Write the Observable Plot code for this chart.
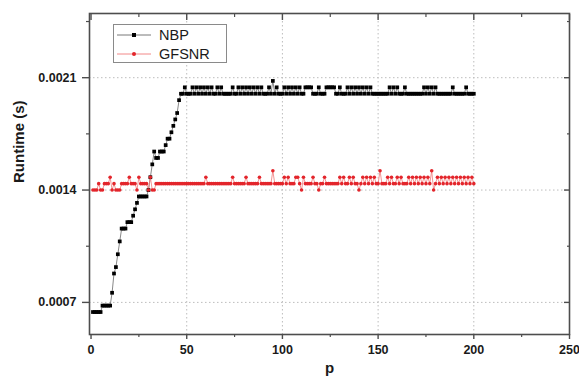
<!DOCTYPE html>
<html><head><meta charset="utf-8">
<script src="https://cdn.jsdelivr.net/npm/d3@7"></script>
<script src="https://cdn.jsdelivr.net/npm/@observablehq/plot@0.6"></script>
<style>
body{margin:0;background:#fff;}
#wrap{position:relative;width:579px;height:381px;font-family:"Liberation Sans",Arial,sans-serif;}
#legend{position:absolute;left:113px;top:24px;width:114px;height:39px;border:1px solid #8a8a8a;background:#fff;box-sizing:border-box;}
#legend svg{display:block;}
</style></head><body><div id="wrap"><div id="legend"></div></div>
<script>
// Series names
const seriesNames = ["NBP", "GFSNR"];
// Runtime (s) for p = 1..200
const nbp = [
 0.00064,0.00064,0.00064,0.00064,0.00064,0.00068,0.00068,0.00068,0.00068,0.00068,
 0.00076,0.00088,0.00092,0.00100,0.00108,0.00116,0.00116,0.00116,0.00120,0.00120,
 0.00120,0.00124,0.00128,0.00132,0.00136,0.00136,0.00136,0.00136,0.00136,0.00140,
 0.00148,0.00156,0.00164,0.00160,0.00160,0.00164,0.00164,0.00164,0.00168,0.00172,
 0.00172,0.00176,0.00180,0.00184,0.00188,0.00196,0.00200,0.00200,0.00204,0.00200,
 0.00200,0.00200,0.00204,0.00200,0.00204,0.00200,0.00204,0.00200,0.00204,0.00200,
 0.00204,0.00200,0.00204,0.00200,0.00200,0.00204,0.00200,0.00204,0.00200,0.00200,
 0.00200,0.00200,0.00200,0.00204,0.00200,0.00200,0.00204,0.00200,0.00204,0.00200,
 0.00204,0.00200,0.00204,0.00200,0.00204,0.00200,0.00204,0.00200,0.00204,0.00200,
 0.00200,0.00200,0.00204,0.00200,0.00208,0.00200,0.00204,0.00200,0.00200,0.00200,
 0.00204,0.00200,0.00204,0.00200,0.00204,0.00200,0.00204,0.00200,0.00204,0.00200,
 0.00200,0.00204,0.00204,0.00204,0.00204,0.00200,0.00200,0.00200,0.00204,0.00200,
 0.00200,0.00200,0.00204,0.00204,0.00204,0.00204,0.00204,0.00200,0.00200,0.00204,
 0.00200,0.00200,0.00200,0.00204,0.00200,0.00204,0.00200,0.00204,0.00200,0.00204,
 0.00200,0.00204,0.00200,0.00204,0.00200,0.00204,0.00200,0.00200,0.00200,0.00200,
 0.00200,0.00200,0.00200,0.00200,0.00200,0.00204,0.00200,0.00204,0.00200,0.00204,
 0.00200,0.00200,0.00200,0.00204,0.00200,0.00200,0.00200,0.00200,0.00200,0.00200,
 0.00200,0.00200,0.00200,0.00204,0.00200,0.00204,0.00200,0.00204,0.00200,0.00204,
 0.00200,0.00200,0.00200,0.00200,0.00200,0.00200,0.00200,0.00200,0.00204,0.00200,
 0.00200,0.00200,0.00200,0.00200,0.00200,0.00204,0.00200,0.00200,0.00200,0.00200
];
const gfsnr = [
 0.00140,0.00140,0.00140,0.00144,0.00140,0.00140,0.00144,0.00144,0.00144,0.00148,
 0.00140,0.00144,0.00140,0.00140,0.00140,0.00144,0.00144,0.00144,0.00144,0.00148,
 0.00144,0.00144,0.00144,0.00140,0.00148,0.00144,0.00144,0.00144,0.00144,0.00140,
 0.00148,0.00140,0.00140,0.00144,0.00144,0.00144,0.00144,0.00144,0.00144,0.00144,
 0.00144,0.00144,0.00144,0.00144,0.00144,0.00144,0.00144,0.00144,0.00144,0.00144,
 0.00144,0.00144,0.00144,0.00144,0.00144,0.00144,0.00144,0.00144,0.00144,0.00148,
 0.00144,0.00144,0.00144,0.00144,0.00144,0.00144,0.00144,0.00144,0.00144,0.00144,
 0.00144,0.00144,0.00144,0.00148,0.00144,0.00144,0.00144,0.00144,0.00144,0.00144,
 0.00148,0.00144,0.00144,0.00144,0.00144,0.00144,0.00144,0.00148,0.00144,0.00144,
 0.00144,0.00144,0.00144,0.00144,0.00152,0.00144,0.00144,0.00144,0.00144,0.00144,
 0.00148,0.00144,0.00148,0.00144,0.00144,0.00144,0.00148,0.00148,0.00144,0.00140,
 0.00148,0.00144,0.00144,0.00144,0.00144,0.00148,0.00144,0.00144,0.00140,0.00144,
 0.00144,0.00148,0.00144,0.00144,0.00144,0.00144,0.00144,0.00144,0.00144,0.00148,
 0.00144,0.00148,0.00144,0.00144,0.00148,0.00144,0.00148,0.00144,0.00144,0.00140,
 0.00144,0.00148,0.00144,0.00148,0.00144,0.00148,0.00144,0.00148,0.00144,0.00144,
 0.00152,0.00144,0.00144,0.00144,0.00148,0.00144,0.00148,0.00144,0.00144,0.00148,
 0.00144,0.00148,0.00144,0.00144,0.00144,0.00148,0.00144,0.00148,0.00144,0.00148,
 0.00144,0.00148,0.00144,0.00148,0.00144,0.00148,0.00144,0.00152,0.00140,0.00144,
 0.00148,0.00144,0.00148,0.00144,0.00148,0.00144,0.00148,0.00144,0.00148,0.00144,
 0.00148,0.00144,0.00148,0.00144,0.00148,0.00144,0.00148,0.00144,0.00148,0.00144
];
const xTicks = [0, 50, 100, 150, 200, 250];
const xMinorTicks = [25, 75, 125, 175, 225];
const xGridTicks = [50, 100, 150, 200];
const yTicks = [0.0007, 0.0014, 0.0021];
const yMinorTicks = [0.00105, 0.00175, 0.00245];
const xLabel = "p";
const yLabel = "Runtime (s)";

const colors = {NBP: "#000000", GFSNR: "#e3252b"};
const lineColors = {NBP: "#6a6a6a", GFSNR: "#f07a7a"};

const nbpData = nbp.map((t, i) => ({p: i + 1, t}));
const gfData = gfsnr.map((t, i) => ({p: i + 1, t}));

const font = "Liberation Sans, Arial, Helvetica, sans-serif";
const frameColor = "#4d4d4d";

const chart = Plot.plot({
  width: 579, height: 381,
  marginLeft: 89, marginRight: 10, marginTop: 13, marginBottom: 47,
  x: {domain: [-0.8, 250]},
  y: {domain: [0.0005, 0.0025]},
  style: {fontFamily: font, color: "#1a1a1a", background: "#fff", overflow: "visible"},
  marks: [
    Plot.gridX(xGridTicks, {stroke: "#bdbdbd", strokeOpacity: 1, strokeDasharray: "1.5,2.5"}),
    Plot.gridY(yTicks, {stroke: "#bdbdbd", strokeOpacity: 1, strokeDasharray: "1.5,2.5"}),
    Plot.lineY(nbpData, {x: "p", y: "t", stroke: lineColors.NBP, strokeWidth: 0.8}),
    Plot.lineY(gfData, {x: "p", y: "t", stroke: lineColors.GFSNR, strokeWidth: 0.8}),
    Plot.dot(nbpData, {x: "p", y: "t", symbol: "square", r: 2.1, fill: colors.NBP, stroke: "none"}),
    Plot.dot(gfData, {x: "p", y: "t", symbol: "circle", r: 1.8, fill: colors.GFSNR, stroke: "none"}),
    Plot.frame({stroke: frameColor, strokeWidth: 1.6}),
    Plot.axisX(xTicks, {tickSize: 5, tickPadding: 6, fontSize: 12.5, fontWeight: "bold", stroke: frameColor, strokeWidth: 1.4, label: null}),
    Plot.axisX(xMinorTicks, {tickSize: 3, fill: "none", stroke: frameColor, strokeWidth: 1.2, label: null}),
    Plot.axisX(xTicks, {anchor: "top", tickSize: -6, fill: "none", stroke: frameColor, strokeWidth: 1.4, label: null}),
    Plot.axisX(xMinorTicks, {anchor: "top", tickSize: -3, fill: "none", stroke: frameColor, strokeWidth: 1.2, label: null}),
    Plot.axisY(yTicks, {tickSize: 7, tickPadding: 6, fontSize: 12.5, fontWeight: "bold", tickFormat: d3.format(".4f"), stroke: frameColor, strokeWidth: 1.4, label: null}),
    Plot.axisY(yMinorTicks, {tickSize: 3, fill: "none", stroke: frameColor, strokeWidth: 1.2, label: null}),
    Plot.axisY(yTicks, {anchor: "right", tickSize: -6, fill: "none", stroke: frameColor, strokeWidth: 1.4, label: null}),
    Plot.axisY(yMinorTicks, {anchor: "right", tickSize: -3, fill: "none", stroke: frameColor, strokeWidth: 1.2, label: null}),
    Plot.text([yLabel], {frameAnchor: "left", dx: -70, dy: 9, rotate: -90, fontSize: 15, fontWeight: "bold", fill: "#1a1a1a"}),
    Plot.text([xLabel], {frameAnchor: "bottom", dy: 38, fontSize: 15, fontWeight: "bold", fill: "#1a1a1a"})
  ]
});
const wrap = document.getElementById("wrap");
wrap.insertBefore(chart, wrap.firstChild);

// Legend
const leg = d3.select("#legend").append("svg").attr("width", 112).attr("height", 37);
seriesNames.forEach((name, i) => {
  const cy = 10 + i * 19;
  leg.append("line").attr("x1", 3).attr("x2", 37).attr("y1", cy).attr("y2", cy)
    .attr("stroke", lineColors[name]).attr("stroke-width", 0.9);
  if (name === "NBP") {
    leg.append("rect").attr("x", 18).attr("y", cy - 2).attr("width", 4).attr("height", 4).attr("fill", colors[name]);
  } else {
    leg.append("circle").attr("cx", 20).attr("cy", cy).attr("r", 2).attr("fill", colors[name]);
  }
  leg.append("text").attr("x", 45).attr("y", cy).attr("dy", "0.36em")
    .attr("font-family", font).attr("font-size", 14.5).attr("fill", "#1a1a1a").text(name);
});
</script></body></html>
